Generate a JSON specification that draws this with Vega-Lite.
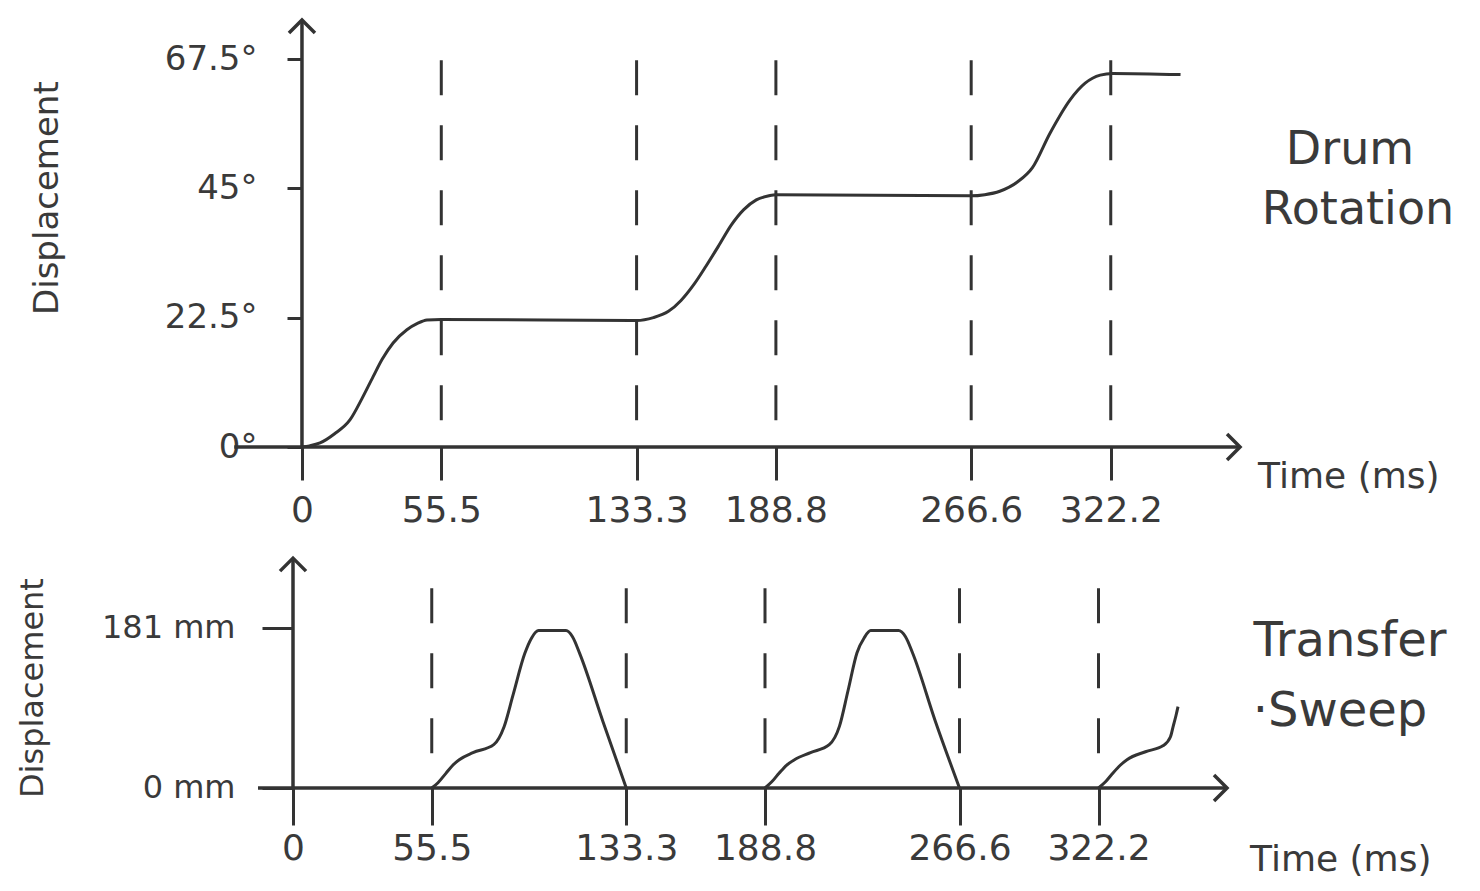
{
  "$schema": "https://vega.github.io/schema/vega-lite/v6.json",
  "padding": 0,
  "spacing": 0,
  "background": "white",
  "config": {"view": {"stroke": null}, "axis": {"grid": false, "domain": false}},
  "datasets": {
    "top": [
      {"k": "curve", "t": 0, "v": 0},
      {"k": "curve", "t": 3, "v": 0.2},
      {"k": "curve", "t": 7.2, "v": 0.7},
      {"k": "curve", "t": 13, "v": 2.3},
      {"k": "curve", "t": 19.1, "v": 4.7},
      {"k": "curve", "t": 24, "v": 8.5},
      {"k": "curve", "t": 28.3, "v": 12.2},
      {"k": "curve", "t": 32, "v": 15.3},
      {"k": "curve", "t": 36.3, "v": 18.1},
      {"k": "curve", "t": 41.8, "v": 20.4},
      {"k": "curve", "t": 46, "v": 21.5},
      {"k": "curve", "t": 49.8, "v": 22.1},
      {"k": "curve", "t": 55.5, "v": 22.2},
      {"k": "curve", "t": 133.3, "v": 22.0},
      {"k": "curve", "t": 140, "v": 22.5},
      {"k": "curve", "t": 146, "v": 23.6},
      {"k": "curve", "t": 151, "v": 25.5},
      {"k": "curve", "t": 156, "v": 28.2},
      {"k": "curve", "t": 161, "v": 31.5},
      {"k": "curve", "t": 166, "v": 35},
      {"k": "curve", "t": 171, "v": 38.6},
      {"k": "curve", "t": 176, "v": 41.3},
      {"k": "curve", "t": 181, "v": 43},
      {"k": "curve", "t": 186, "v": 43.7},
      {"k": "curve", "t": 188.8, "v": 43.9},
      {"k": "curve", "t": 266.6, "v": 43.7},
      {"k": "curve", "t": 272, "v": 43.9},
      {"k": "curve", "t": 278, "v": 44.5},
      {"k": "curve", "t": 285, "v": 46.1},
      {"k": "curve", "t": 291, "v": 48.6},
      {"k": "curve", "t": 298, "v": 54.6},
      {"k": "curve", "t": 306, "v": 60.4},
      {"k": "curve", "t": 312, "v": 63.3},
      {"k": "curve", "t": 318, "v": 64.7},
      {"k": "curve", "t": 323, "v": 65},
      {"k": "curve", "t": 350, "v": 64.8},
      {"k": "dash", "t": 55.5, "v": 67.3, "v2": 4.5},
      {"k": "dash", "t": 133.3, "v": 67.3, "v2": 4.5},
      {"k": "dash", "t": 188.8, "v": 67.3, "v2": 4.5},
      {"k": "dash", "t": 266.6, "v": 67.3, "v2": 4.5},
      {"k": "dash", "t": 322.2, "v": 67.3, "v2": 4.5},
      {"k": "axisH", "t": -27, "t2": 373.7, "v": 0},
      {"k": "axisV", "t": 0, "v": 0, "v2": 74.3},
      {"k": "arrowR", "t": 373.7, "v": 0},
      {"k": "arrowU", "t": 0, "v": 74.3},
      {"k": "name", "t": 417.5, "v": 51.7, "txt": "Drum"},
      {"k": "name", "t": 420.7, "v": 41.2, "txt": "Rotation"},
      {"k": "unit", "t": 380.9, "v": -5.2, "txt": "Time (ms)"},
      {"k": "ylab", "t": -101.2, "v": 43.3, "txt": "Displacement"}
    ],
    "bottom": [
      {"k": "curve", "seg": 1, "t": 55.5, "v": 0},
      {"k": "curve", "seg": 1, "t": 58, "v": 6},
      {"k": "curve", "seg": 1, "t": 61, "v": 16},
      {"k": "curve", "seg": 1, "t": 64, "v": 26},
      {"k": "curve", "seg": 1, "t": 66.5, "v": 32},
      {"k": "curve", "seg": 1, "t": 72, "v": 40},
      {"k": "curve", "seg": 1, "t": 80.3, "v": 49},
      {"k": "curve", "seg": 1, "t": 84.4, "v": 69},
      {"k": "curve", "seg": 1, "t": 88, "v": 105},
      {"k": "curve", "seg": 1, "t": 92.7, "v": 152},
      {"k": "curve", "seg": 1, "t": 95.5, "v": 170},
      {"k": "curve", "seg": 1, "t": 98.2, "v": 178},
      {"k": "curve", "seg": 1, "t": 109.2, "v": 178},
      {"k": "curve", "seg": 1, "t": 111.8, "v": 171},
      {"k": "curve", "seg": 1, "t": 114.7, "v": 152},
      {"k": "curve", "seg": 1, "t": 124, "v": 75},
      {"k": "curve", "seg": 1, "t": 133.3, "v": 0},
      {"k": "curve", "seg": 2, "t": 188.8, "v": 0},
      {"k": "curve", "seg": 2, "t": 191.5, "v": 7},
      {"k": "curve", "seg": 2, "t": 194.5, "v": 17},
      {"k": "curve", "seg": 2, "t": 197.5, "v": 26},
      {"k": "curve", "seg": 2, "t": 200.6, "v": 32},
      {"k": "curve", "seg": 2, "t": 207, "v": 40},
      {"k": "curve", "seg": 2, "t": 214.5, "v": 49},
      {"k": "curve", "seg": 2, "t": 218.6, "v": 70},
      {"k": "curve", "seg": 2, "t": 222, "v": 110},
      {"k": "curve", "seg": 2, "t": 225.6, "v": 153},
      {"k": "curve", "seg": 2, "t": 228.5, "v": 170},
      {"k": "curve", "seg": 2, "t": 231.1, "v": 178},
      {"k": "curve", "seg": 2, "t": 242.2, "v": 178},
      {"k": "curve", "seg": 2, "t": 245, "v": 171},
      {"k": "curve", "seg": 2, "t": 247.8, "v": 153},
      {"k": "curve", "seg": 2, "t": 257, "v": 75},
      {"k": "curve", "seg": 2, "t": 266.6, "v": 0},
      {"k": "curve", "seg": 3, "t": 322.2, "v": 0},
      {"k": "curve", "seg": 3, "t": 325, "v": 7},
      {"k": "curve", "seg": 3, "t": 328, "v": 17},
      {"k": "curve", "seg": 3, "t": 331, "v": 26},
      {"k": "curve", "seg": 3, "t": 333.6, "v": 32},
      {"k": "curve", "seg": 3, "t": 341, "v": 41},
      {"k": "curve", "seg": 3, "t": 348.1, "v": 48},
      {"k": "curve", "seg": 3, "t": 351, "v": 58},
      {"k": "curve", "seg": 3, "t": 352.1, "v": 70},
      {"k": "curve", "seg": 3, "t": 353.2, "v": 82},
      {"k": "curve", "seg": 3, "t": 354, "v": 92},
      {"k": "dash", "t": 55.5, "v": 226, "v2": 38},
      {"k": "dash", "t": 133.3, "v": 226, "v2": 38},
      {"k": "dash", "t": 188.8, "v": 226, "v2": 38},
      {"k": "dash", "t": 266.6, "v": 226, "v2": 38},
      {"k": "dash", "t": 322.2, "v": 226, "v2": 38},
      {"k": "axisH", "t": -14, "t2": 373.6, "v": 0},
      {"k": "axisV", "t": 0, "v": 0, "v2": 260},
      {"k": "arrowR", "t": 373.6, "v": 0},
      {"k": "arrowU", "t": 0, "v": 260},
      {"k": "name", "t": 422.8, "v": 165, "txt": "Transfer"},
      {"k": "name", "t": 418.8, "v": 86, "txt": "·Sweep"},
      {"k": "unit", "t": 382.8, "v": -81.4, "txt": "Time (ms)"},
      {"k": "ylab", "t": -104, "v": 113, "txt": "Displacement"}
    ]
  },
  "vconcat": [
    {
      "width": 1480,
      "height": 540,
      "data": {"name": "top"},
      "encoding": {
        "x": {
          "field": "t", "type": "quantitative",
          "scale": {"domain": [-120.3, 469.3], "nice": false, "zero": false},
          "axis": {
            "orient": "bottom", "offset": -93, "title": null,
            "values": [0, 55.5, 133.3, 188.8, 266.6, 322.2],
            "labelExpr": "datum.value == 0 ? '0' : format(datum.value, '.1f')",
            "ticks": true, "tickSize": 33, "tickWidth": 3, "tickColor": "#333333",
            "labelFont": "DejaVu Sans", "labelFontSize": 36, "labelColor": "#3a3a3a",
            "labelPadding": 13, "labelFlush": false, "labelOverlap": false, "labelBound": false
          }
        },
        "y": {
          "field": "v", "type": "quantitative",
          "scale": {"domain": [-16.18, 77.77], "nice": false, "zero": false},
          "axis": {
            "orient": "left", "offset": -302, "title": null,
            "values": [0, 22.5, 45, 67.5],
            "labelExpr": "format(datum.value, '~g') + '°'",
            "ticks": true, "tickSize": 15, "tickWidth": 3, "tickColor": "#333333",
            "labelFont": "DejaVu Sans", "labelFontSize": 34, "labelColor": "#3a3a3a",
            "labelPadding": 30, "labelOverlap": false, "labelBound": false
          }
        }
      },
      "layer": [
        {
          "transform": [{"filter": "datum.k == 'dash'"}],
          "mark": {"type": "rule", "stroke": "#333333", "strokeWidth": 3, "strokeDash": [35, 30]},
          "encoding": {"y2": {"field": "v2"}}
        },
        {
          "transform": [{"filter": "datum.k == 'axisH'"}],
          "mark": {"type": "rule", "stroke": "#333333", "strokeWidth": 3.5},
          "encoding": {"x2": {"field": "t2"}}
        },
        {
          "transform": [{"filter": "datum.k == 'axisV'"}],
          "mark": {"type": "rule", "stroke": "#333333", "strokeWidth": 3.5},
          "encoding": {"y2": {"field": "v2"}}
        },
        {
          "transform": [{"filter": "datum.k == 'arrowR'"}],
          "mark": {"type": "point", "shape": "M-1,-1L0,0L-1,1", "size": 676, "filled": false, "stroke": "#333333", "strokeWidth": 3.5, "opacity": 1}
        },
        {
          "transform": [{"filter": "datum.k == 'arrowU'"}],
          "mark": {"type": "point", "shape": "M-1,1L0,0L1,1", "size": 676, "filled": false, "stroke": "#333333", "strokeWidth": 3.5, "opacity": 1}
        },
        {
          "transform": [{"filter": "datum.k == 'curve'"}],
          "mark": {"type": "line", "stroke": "#333333", "strokeWidth": 3, "interpolate": "monotone"}
        },
        {
          "transform": [{"filter": "datum.k == 'name'"}],
          "mark": {"type": "text", "font": "DejaVu Sans", "fontSize": 46, "fill": "#3a3a3a", "align": "center", "baseline": "middle"},
          "encoding": {"text": {"field": "txt"}}
        },
        {
          "transform": [{"filter": "datum.k == 'unit'"}],
          "mark": {"type": "text", "font": "DejaVu Sans", "fontSize": 36, "fill": "#3a3a3a", "align": "left", "baseline": "middle"},
          "encoding": {"text": {"field": "txt"}}
        },
        {
          "transform": [{"filter": "datum.k == 'ylab'"}],
          "mark": {"type": "text", "font": "DejaVu Sans", "fontSize": 34, "fill": "#3a3a3a", "align": "center", "baseline": "middle", "angle": 270},
          "encoding": {"text": {"field": "txt"}}
        }
      ]
    },
    {
      "width": 1480,
      "height": 351,
      "data": {"name": "bottom"},
      "encoding": {
        "x": {
          "field": "t", "type": "quantitative",
          "scale": {"domain": [-117.2, 474.8], "nice": false, "zero": false},
          "axis": {
            "orient": "bottom", "offset": -103, "title": null,
            "values": [0, 55.5, 133.3, 188.8, 266.6, 322.2],
            "labelExpr": "datum.value == 0 ? '0' : format(datum.value, '.1f')",
            "ticks": true, "tickSize": 37, "tickWidth": 3, "tickColor": "#333333",
            "labelFont": "DejaVu Sans", "labelFontSize": 36, "labelColor": "#3a3a3a",
            "labelPadding": 6, "labelFlush": false, "labelOverlap": false, "labelBound": false
          }
        },
        "y": {
          "field": "v", "type": "quantitative",
          "scale": {"domain": [-116.5, 280.5], "nice": false, "zero": false},
          "axis": {
            "orient": "left", "offset": -293, "title": null,
            "values": [0, 181],
            "labelExpr": "format(datum.value, 'd') + ' mm'",
            "ticks": true, "tickSize": 31, "tickWidth": 3, "tickColor": "#333333",
            "labelFont": "DejaVu Sans", "labelFontSize": 32, "labelColor": "#3a3a3a",
            "labelPadding": 27, "labelOverlap": false, "labelBound": false
          }
        }
      },
      "layer": [
        {
          "transform": [{"filter": "datum.k == 'dash'"}],
          "mark": {"type": "rule", "stroke": "#333333", "strokeWidth": 3, "strokeDash": [35, 30]},
          "encoding": {"y2": {"field": "v2"}}
        },
        {
          "transform": [{"filter": "datum.k == 'axisH'"}],
          "mark": {"type": "rule", "stroke": "#333333", "strokeWidth": 3.5},
          "encoding": {"x2": {"field": "t2"}}
        },
        {
          "transform": [{"filter": "datum.k == 'axisV'"}],
          "mark": {"type": "rule", "stroke": "#333333", "strokeWidth": 3.5},
          "encoding": {"y2": {"field": "v2"}}
        },
        {
          "transform": [{"filter": "datum.k == 'arrowR'"}],
          "mark": {"type": "point", "shape": "M-1,-1L0,0L-1,1", "size": 676, "filled": false, "stroke": "#333333", "strokeWidth": 3.5, "opacity": 1}
        },
        {
          "transform": [{"filter": "datum.k == 'arrowU'"}],
          "mark": {"type": "point", "shape": "M-1,1L0,0L1,1", "size": 676, "filled": false, "stroke": "#333333", "strokeWidth": 3.5, "opacity": 1}
        },
        {
          "transform": [{"filter": "datum.k == 'curve'"}],
          "mark": {"type": "line", "stroke": "#333333", "strokeWidth": 3, "interpolate": "monotone"},
          "encoding": {"detail": {"field": "seg", "type": "nominal"}}
        },
        {
          "transform": [{"filter": "datum.k == 'name'"}],
          "mark": {"type": "text", "font": "DejaVu Sans", "fontSize": 48, "fill": "#3a3a3a", "align": "center", "baseline": "middle"},
          "encoding": {"text": {"field": "txt"}}
        },
        {
          "transform": [{"filter": "datum.k == 'unit'"}],
          "mark": {"type": "text", "font": "DejaVu Sans", "fontSize": 36, "fill": "#3a3a3a", "align": "left", "baseline": "middle"},
          "encoding": {"text": {"field": "txt"}}
        },
        {
          "transform": [{"filter": "datum.k == 'ylab'"}],
          "mark": {"type": "text", "font": "DejaVu Sans", "fontSize": 32, "fill": "#3a3a3a", "align": "center", "baseline": "middle", "angle": 270},
          "encoding": {"text": {"field": "txt"}}
        }
      ]
    }
  ]
}
